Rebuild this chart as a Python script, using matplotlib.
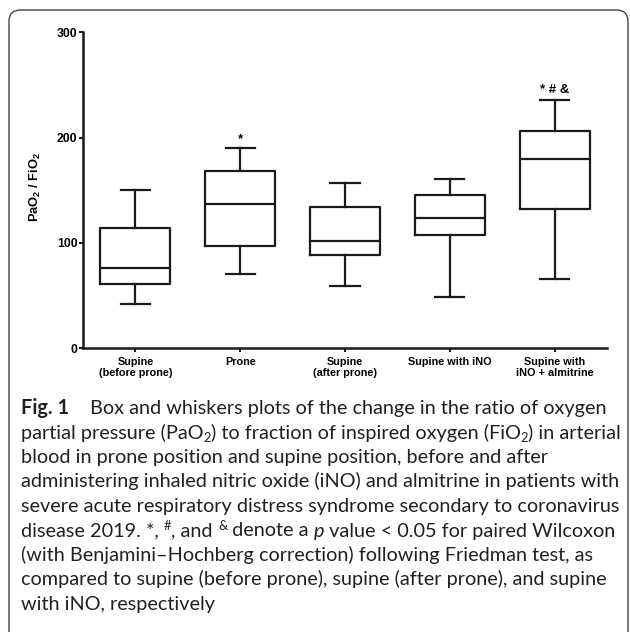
"""
Box and whiskers plot of PaO2 / FiO2 by position and treatment,
with the figure caption underneath, inside a rounded frame.
"""

import matplotlib
matplotlib.use("Agg")
import matplotlib.pyplot as plt
from matplotlib.patches import FancyBboxPatch


# values
CATEGORIES = [
    "Supine\n(before prone)",
    "Prone",
    "Supine\n(after prone)",
    "Supine with iNO",
    "Supine with\niNO + almitrine",
]
WHISKER_LOW = [42, 71, 59, 49, 66]
Q1 = [61, 97, 89, 108, 132]
MEDIAN = [76, 137, 102, 124, 180]
Q3 = [114, 168, 134, 146, 206]
WHISKER_HIGH = [150, 190, 157, 161, 236]
MARKS = ["", "*", "", "", "* # &"]

Y_TICKS = [0, 100, 200, 300]

CAPTION_FONT = "Lato"
PLOT_FONT = "Liberation Sans"

# each caption line is a list of (text, style) pieces
CAPTION_LINES = [
    [("Fig. 1", "bold"), ("Box and whiskers plots of the change in the ratio of oxygen", "normal")],
    [("partial pressure (PaO", "normal"), ("2", "sub"),
     (") to fraction of inspired oxygen (FiO", "normal"), ("2", "sub"), (") in arterial", "normal")],
    [("blood in prone position and supine position, before and after", "normal")],
    [("administering inhaled nitric oxide (iNO) and almitrine in patients with", "normal")],
    [("severe acute respiratory distress syndrome secondary to coronavirus", "normal")],
    [("disease 2019. *, ", "normal"), ("#", "sup"), (", and ", "normal"), ("&", "sup"),
     (" denote a ", "normal"), ("p", "italic"), (" value < 0.05 for paired Wilcoxon", "normal")],
    [("(with Benjamini\u2013Hochberg correction) following Friedman test, as", "normal")],
    [("compared to supine (before prone), supine (after prone), and supine", "normal")],
    [("with iNO, respectively", "normal")],
]

plt.rcParams["mathtext.fontset"] = "custom"
plt.rcParams["mathtext.bf"] = PLOT_FONT + ":bold"

W, H = 630, 632
fig = plt.figure(figsize=(W / 100, H / 100), dpi=100)

# rounded frame round the figure
frame = FancyBboxPatch(
    (9 / W, -0.1), (628 - 9) / W, 1 - 10 / H + 0.1,
    boxstyle="round,pad=0,rounding_size=0.018",
    transform=fig.transFigure, facecolor="none",
    edgecolor="#444444", linewidth=1.0, clip_on=False,
)
fig.patches.append(frame)

ax = fig.add_axes([83 / W, 1 - 348.3 / H, (607 - 83) / W, (348.3 - 32.3) / H])

stats = []
for i in range(len(CATEGORIES)):
    stats.append(
        {
            "whislo": WHISKER_LOW[i],
            "q1": Q1[i],
            "med": MEDIAN[i],
            "q3": Q3[i],
            "whishi": WHISKER_HIGH[i],
            "fliers": [],
        }
    )

line_style = {"color": "#1a1a1a", "linewidth": 1.6}
positions = list(range(1, len(CATEGORIES) + 1))
ax.bxp(
    stats,
    positions=positions,
    widths=0.667,
    capwidths=0.28,
    showfliers=False,
    boxprops=line_style,
    whiskerprops=line_style,
    capprops=line_style,
    medianprops=line_style,
)

for x, top, mark in zip(positions, WHISKER_HIGH, MARKS):
    if mark:
        ax.text(x, top + 6, mark, ha="center", va="baseline",
                fontsize=9.5, fontweight="bold", family=PLOT_FONT)

ax.set_xlim(0.5, 5.5)
ax.set_ylim(0, 300)
ax.set_yticks(Y_TICKS)
ax.set_xticks(positions)
ax.set_xticklabels(CATEGORIES, fontsize=7.8, fontweight="bold",
                   family=PLOT_FONT, linespacing=1.15)
ax.set_yticklabels([str(v) for v in Y_TICKS], fontsize=8.8,
                   fontweight="bold", family=PLOT_FONT)
ax.tick_params(axis="both", length=3, width=1.5, color="#1a1a1a", pad=1)
ax.tick_params(axis="x", pad=3)

ax.spines["top"].set_visible(False)
ax.spines["right"].set_visible(False)
for side in ["left", "bottom"]:
    ax.spines[side].set_linewidth(1.8)
    ax.spines[side].set_color("#1a1a1a")

ax.set_ylabel("PaO$_\\mathbf{2}$ / FiO$_\\mathbf{2}$", fontsize=9.3,
              fontweight="bold", family=PLOT_FONT)
ax.yaxis.set_label_coords(-40 / (607 - 83), 0.51)

# caption, drawn piece by piece so sub/superscripts and bold can mix
caption_size = 14.3
caption_left = 21
after_label = 90
first_baseline = 414
line_gap = 24.5
renderer = fig.canvas.get_renderer()
for i, pieces in enumerate(CAPTION_LINES):
    x_px = caption_left
    base_px = first_baseline + i * line_gap
    for text, style in pieces:
        size = caption_size
        y_px = base_px
        weight = "normal"
        font_style = "normal"
        if style == "bold":
            weight = "bold"
        elif style == "italic":
            font_style = "italic"
        elif style == "sub":
            size = caption_size * 0.65
            y_px = base_px + 4
        elif style == "sup":
            size = caption_size * 0.65
            y_px = base_px - 7
        t = fig.text(x_px / W, 1 - y_px / H, text, fontsize=size,
                     fontweight=weight, fontstyle=font_style,
                     family=CAPTION_FONT, va="baseline", color="#231f20")
        x_px += t.get_window_extent(renderer).width
        if style == "bold":
            x_px = after_label

fig.savefig("out.png", dpi=100)
